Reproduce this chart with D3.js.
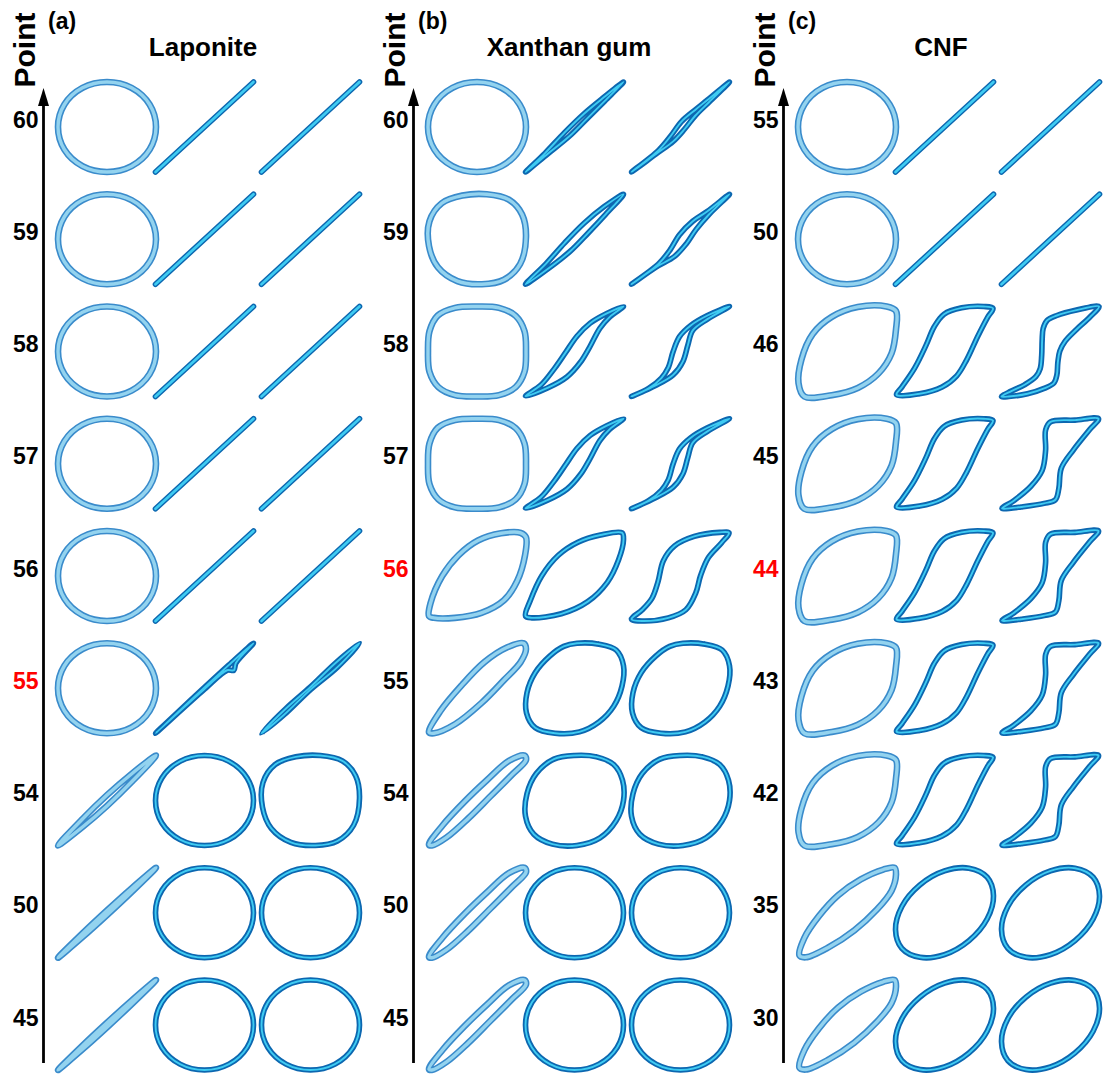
<!DOCTYPE html>
<html><head><meta charset="utf-8">
<script src="https://cdn.jsdelivr.net/npm/d3@7"></script>
<style>body{margin:0;background:#fff}</style>
</head><body><svg id="chart" width="1105" height="1079"></svg>
<script>
// ---------------- data ----------------
const panelTags = ["(a)", "(b)", "(c)"];
const materials = ["Laponite", "Xanthan gum", "CNF"];
const axisTitle = "Point";
const pointLabels = [
  ["60", "59", "58", "57", "56", "55", "54", "50", "45"],
  ["60", "59", "58", "57", "56", "55", "54", "50", "45"],
  ["55", "50", "46", "45", "44", "43", "42", "35", "30"]
];
const highlighted = ["55", "56", "44"];

// Lissajous loop outlines, normalised to [-1,1] (x right, y up)
const circle = [[1,0],[0.87,0.5],[0.5,0.87],[0,1],[-0.5,0.87],[-0.87,0.5],[-1,0],[-0.87,-0.5],[-0.5,-0.87],[0,-1],[0.5,-0.87],[0.87,-0.5]];
const roundish = [[1,0.05],[0.92,0.55],[0.65,0.88],[0.2,1],[-0.3,0.97],[-0.72,0.8],[-0.97,0.4],[-0.98,-0.15],[-0.8,-0.62],[-0.4,-0.93],[0.1,-1],[0.55,-0.9],[0.88,-0.55]];
const squircle = [[1,0],[0.97,0.45],[0.79,0.79],[0.45,0.97],[0,1],[-0.45,0.97],[-0.8,0.8],[-0.97,0.45],[-1,0],[-0.97,-0.45],[-0.79,-0.79],[-0.45,-0.97],[0,-1],[0.45,-0.97],[0.79,-0.79],[0.97,-0.45]];
const line = [[-1,-1],[1,1]];
const lapBlob = [[-1,-1],[0,0.02],[0.5,0.52],[1,1],[0.64,0.56],[0.6,0.4],[0.46,0.4],[0,-0.02]];
const lapLensT = [[-1,-1],[-0.5,-0.45],[0,0.03],[0.5,0.55],[1,1],[0.55,0.47],[0,-0.03],[-0.55,-0.6]];
const lapLens54 = [[-1,-1],[-0.5,-0.41],[0,0.12],[0.5,0.59],[1,1],[0.5,0.41],[0,-0.12],[-0.5,-0.59]];
const lapLens50 = [[-1,-1],[-0.5,-0.46],[0,0.05],[0.5,0.54],[1,1],[0.5,0.46],[0,-0.05],[-0.5,-0.54]];
const xLens60 = [[-1,-1],[-0.6,-0.58],[-0.2,-0.12],[0.2,0.3],[0.6,0.66],[1,1],[0.62,0.58],[0.25,0.18],[-0.1,-0.2],[-0.55,-0.6]];
const xLens59 = [[-1,-1],[-0.58,-0.54],[-0.2,-0.08],[0.2,0.36],[0.6,0.72],[1,1],[0.64,0.56],[0.28,0.14],[-0.08,-0.26],[-0.52,-0.64]];
const xLeafS = [[-1,-0.99],[-0.68,-0.74],[-0.41,-0.38],[-0.18,-0.02],[0.05,0.34],[0.32,0.63],[0.65,0.84],[1,1],[0.72,0.77],[0.52,0.52],[0.32,0.12],[0.12,-0.24],[-0.15,-0.56],[-0.55,-0.81]];
const xS60 = [[-1,-1],[-0.45,-0.52],[-0.2,-0.2],[0.02,0.12],[0.3,0.38],[0.55,0.6],[1,1],[0.58,0.55],[0.3,0.25],[0.08,-0.05],[-0.15,-0.32],[-0.5,-0.6]];
const xS59 = [[-1,-1],[-0.45,-0.55],[-0.22,-0.25],[-0.02,0.1],[0.25,0.4],[0.55,0.62],[1,1],[0.58,0.55],[0.32,0.22],[0.12,-0.1],[-0.12,-0.38],[-0.5,-0.62]];
const xS58 = [[-1,-1],[-0.65,-0.82],[-0.39,-0.59],[-0.25,-0.36],[-0.15,0],[-0.02,0.33],[0.21,0.58],[0.55,0.8],[1,1],[0.55,0.72],[0.25,0.47],[0.15,0.14],[0.05,-0.22],[-0.15,-0.52],[-0.52,-0.76]];
const xLeaf56a = [[-0.98,-0.89],[-0.95,-0.61],[-0.71,0],[-0.38,0.46],[0.02,0.79],[0.49,0.95],[0.89,0.96],[1,0.86],[0.98,0.46],[0.82,-0.11],[0.55,-0.54],[0.09,-0.82],[-0.45,-0.93],[-0.88,-0.93]];
const xLeaf56b = [[-1,-0.89],[-0.9,-0.54],[-0.67,0],[-0.33,0.46],[0.07,0.75],[0.53,0.91],[0.97,0.96],[1,0.8],[0.9,0.36],[0.67,-0.14],[0.27,-0.57],[-0.27,-0.84],[-0.87,-0.93]];
const xS56 = [[-1,-0.96],[-0.78,-0.75],[-0.58,-0.49],[-0.46,-0.13],[-0.35,0.34],[-0.12,0.67],[0.28,0.88],[0.8,0.97],[0.99,0.96],[0.84,0.74],[0.57,0.41],[0.41,0.01],[0.31,-0.38],[0.11,-0.75],[-0.25,-0.93],[-0.78,-1]];
const xLens55 = [[-0.98,-0.98],[-0.75,-0.51],[-0.31,0.07],[0.15,0.58],[0.62,0.91],[0.95,1],[1,0.87],[0.89,0.58],[0.55,0.18],[0.09,-0.33],[-0.45,-0.8],[-0.88,-1]];
const xLensN = [[-0.98,-0.98],[-0.7,-0.55],[-0.25,-0.02],[0.2,0.45],[0.65,0.88],[0.97,1],[1,0.9],[0.72,0.58],[0.28,0.1],[-0.18,-0.4],[-0.62,-0.82],[-0.92,-1]];
const xEgg = [[0.05,1],[0.5,0.98],[0.85,0.85],[1,0.5],[0.97,0.05],[0.8,-0.4],[0.5,-0.75],[0.1,-0.97],[-0.4,-1],[-0.8,-0.88],[-0.98,-0.55],[-0.97,-0.1],[-0.8,0.35],[-0.5,0.72],[-0.22,0.93]];
const xEgg2 = [[0,1],[0.45,0.97],[0.8,0.8],[0.98,0.45],[1,0],[0.85,-0.45],[0.52,-0.83],[0.05,-1],[-0.45,-0.97],[-0.83,-0.75],[-1,-0.35],[-0.97,0.15],[-0.78,0.6],[-0.42,0.92]];
const cTear = [[-0.99,-0.7],[-0.93,-0.18],[-0.7,0.39],[-0.31,0.77],[0.22,0.99],[0.81,1],[1,0.9],[1,0.49],[0.91,-0.04],[0.64,-0.49],[0.22,-0.81],[-0.31,-0.97],[-0.87,-1]];
const cPara = [[-0.98,-0.96],[-0.51,-0.94],[-0.05,-0.79],[0.25,-0.54],[0.45,-0.19],[0.68,0.34],[0.88,0.76],[0.99,0.96],[0.8,1],[0.35,0.97],[-0.01,0.83],[-0.21,0.55],[-0.38,0.13],[-0.61,-0.37],[-0.87,-0.79]];
const cZ46 = [[-1,-1],[-0.8,-0.88],[-0.53,-0.74],[-0.3,-0.56],[-0.21,-0.38],[-0.18,-0.09],[-0.17,0.26],[-0.15,0.51],[-0.07,0.69],[0.13,0.8],[0.53,0.92],[0.99,1],[0.8,0.76],[0.53,0.49],[0.3,0.23],[0.19,0.01],[0.15,-0.24],[0.13,-0.52],[0.07,-0.7],[-0.13,-0.82],[-0.47,-0.94],[-0.85,-1]];
const cZ45 = [[-0.99,-0.99],[-0.75,-0.82],[-0.4,-0.5],[-0.17,-0.15],[-0.1,0.3],[-0.1,0.75],[0,0.93],[0.5,0.97],[0.98,1],[0.8,0.76],[0.47,0.31],[0.22,-0.1],[0.17,-0.55],[0.1,-0.8],[-0.13,-0.88],[-0.6,-0.96],[-0.95,-1]];
const cLens35 = [[-0.97,-0.95],[-0.87,-0.56],[-0.57,-0.07],[-0.18,0.39],[0.28,0.74],[0.74,0.96],[0.97,1],[1,0.85],[0.91,0.49],[0.61,0.07],[0.15,-0.39],[-0.38,-0.77],[-0.84,-0.99]];
const cEll = [[1,0.375],[0.87,0.79],[0.5,0.99],[0,0.93],[-0.5,0.62],[-0.87,0.14],[-1,-0.375],[-0.87,-0.79],[-0.5,-0.99],[0,-0.93],[0.5,-0.62],[0.87,-0.14]];

// which loop sits in each row/column of each panel
const gridLaponite = [
  ["circle","line","line"], ["circle","line","line"], ["circle","line","line"],
  ["circle","line","line"], ["circle","line","line"], ["circle","lapBlob","lapLensT"],
  ["lapLens54","circle","roundish"], ["lapLens50","circle","circle"], ["lapLens50","circle","circle"]];
const gridXanthan = [
  ["circle","xLens60","xS60"], ["roundish","xLens59","xS59"], ["squircle","xLeafS","xS58"],
  ["squircle","xLeafS","xS58"], ["xLeaf56a","xLeaf56b","xS56"], ["xLens55","xEgg","xEgg"],
  ["xLensN","xEgg2","xEgg2"], ["xLensN","circle","circle"], ["xLensN","circle","circle"]];
const gridCNF = [
  ["circle","line","line"], ["circle","line","line"], ["cTear","cPara","cZ46"],
  ["cTear","cPara","cZ45"], ["cTear","cPara","cZ45"], ["cTear","cPara","cZ45"],
  ["cTear","cPara","cZ45"], ["cLens35","cEll","cEll"], ["cLens35","cEll","cEll"]];
const openShapes = ["line"];

// ---------------- drawing ----------------
const shapeLib = {circle, roundish, squircle, line, lapBlob, lapLensT, lapLens54, lapLens50,
  xLens60, xLens59, xLeafS, xS60, xS59, xS58, xLeaf56a, xLeaf56b, xS56, xLens55, xLensN,
  xEgg, xEgg2, cTear, cPara, cZ46, cZ45, cLens35, cEll};
const grids = [gridLaponite, gridXanthan, gridCNF];

const svg = d3.select("#chart");
const font = "'Liberation Sans', Arial, Helvetica, sans-serif";

const panelX = d3.scaleOrdinal().domain([0,1,2]).range([43.5, 413.5, 783.5]);
const rowY = d3.scalePoint().domain(d3.range(9)).range([127, 1025]);
const colOffset = d3.scaleOrdinal().domain([0,1,2]).range([63.5, 161, 267]);
const titleX = [203, 569, 941];
const halfW = 49, halfH = 45;

const styles = [
  {outer: "#3a8bcb", outerW: 6.6, inner: "#93d3ef", innerW: 3.4},
  {outer: "#0c67b0", outerW: 5.6, inner: "#3fcbf2", innerW: 1.9}
];

panelTags.forEach((tag, p) => {
  const ax = panelX(p);
  const g = svg.append("g");

  // vertical arrow axis
  g.append("line").attr("x1", ax).attr("x2", ax).attr("y1", 1063).attr("y2", 100)
    .attr("stroke", "#000").attr("stroke-width", 2.8);
  g.append("path").attr("d", `M${ax},88 L${ax-5.5},106 L${ax+5.5},106 Z`).attr("fill", "#000");

  // axis title, panel tag, material
  g.append("text").attr("transform", `translate(${ax-9},50) rotate(-90)`)
    .attr("text-anchor", "middle").attr("font-family", font).attr("font-weight", "bold")
    .attr("font-size", 30).text(axisTitle);
  g.append("text").attr("x", ax + 4.5).attr("y", 29).attr("font-family", font)
    .attr("font-weight", "bold").attr("font-size", 23).text(tag);
  g.append("text").attr("x", titleX[p]).attr("y", 56).attr("text-anchor", "middle")
    .attr("font-family", font).attr("font-weight", "bold").attr("font-size", 26).text(materials[p]);

  // row labels
  pointLabels[p].forEach((lab, r) => {
    g.append("text").attr("x", ax - 5).attr("y", rowY(r) + 0.5).attr("text-anchor", "end")
      .attr("font-family", font).attr("font-weight", "bold").attr("font-size", 23)
      .attr("fill", lab === highlighted[p] ? "#ff0000" : "#000").text(lab);
  });

  // loops
  grids[p].forEach((row, r) => {
    row.forEach((name, c) => {
      const cx = ax + colOffset(c), cy = rowY(r);
      const sx = d3.scaleLinear().domain([-1, 1]).range([cx - halfW, cx + halfW]);
      const sy = d3.scaleLinear().domain([-1, 1]).range([cy + halfH, cy - halfH]);
      const isOpen = openShapes.includes(name);
      const gen = d3.line().x(d => sx(d[0])).y(d => sy(d[1]))
        .curve(isOpen ? d3.curveLinear : d3.curveCatmullRomClosed.alpha(0.5));
      const st = styles[c === 0 ? 0 : 1];
      const dstr = gen(shapeLib[name]);
      g.append("path").attr("d", dstr).attr("fill", "none").attr("stroke", st.outer)
        .attr("stroke-width", st.outerW).attr("stroke-linecap", "round").attr("stroke-linejoin", "round");
      g.append("path").attr("d", dstr).attr("fill", "none").attr("stroke", st.inner)
        .attr("stroke-width", isOpen ? st.innerW + 0.8 : st.innerW).attr("stroke-linecap", "round").attr("stroke-linejoin", "round");
    });
  });
});
</script></body></html>
